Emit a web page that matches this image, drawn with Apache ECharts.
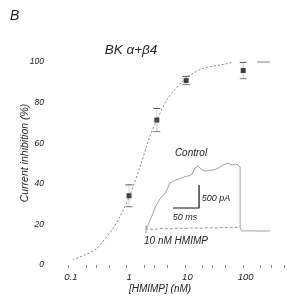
<!DOCTYPE html>
<html>
<head>
<meta charset="utf-8">
<script src="https://cdn.jsdelivr.net/npm/echarts@6/dist/echarts.min.js"></script>
<style>
  html, body { margin: 0; padding: 0; background: #fff; }
  #main { width: 287px; height: 303px; }
</style>
</head>
<body>
<div id="main"></div>
<script>
// dose-response points (nM, % inhibition, sem)
var doseConc = [1.1, 3.3, 10.5, 100];
var dosePct = [34.1, 71.4, 90.9, 95.8];
var doseErr = [5.4, 5.7, 2.0, 4.0];

// fitted curve
var fitConc = [0.119, 0.2, 0.31, 0.39, 0.55, 0.77, 1.14, 1.7, 2.5, 3.3, 4.85, 6.3, 9, 12.2, 20.6, 40, 67];
var fitPct = [2.5, 5.2, 8.2, 11.5, 17, 23.8, 34.5, 48.4, 63.2, 71.4, 81.3, 85.4, 90.5, 93.6, 96.9, 98.5, 99.8];
var plateauConc = [174, 288];
var plateauPct = [100, 100];

var xLabelConc = [0.1, 1, 10, 100];
var xTickConc = [0.1, 0.2, 0.3, 0.5, 1, 2, 3, 5, 10, 20, 30, 50, 100, 200, 300, 500];

// inset current traces (ms, pA)
var controlT = [0, 4, 8, 13, 17, 22, 27, 32, 37, 42, 46, 52, 58, 64, 69, 75, 81, 85, 89, 94, 100, 104, 108, 112, 115, 122, 129, 134, 139, 144, 148, 153, 158, 163, 167, 172, 177, 181, 181, 185, 200, 220, 238];
var controlI = [0, 90, 196, 330, 457, 560, 652, 720, 783, 900, 1000, 1040, 1065, 1090, 1109, 1140, 1152, 1170, 1196, 1326, 1370, 1330, 1283, 1260, 1239, 1270, 1283, 1300, 1326, 1360, 1391, 1410, 1435, 1400, 1391, 1410, 1391, 1348, 22, -43, -40, -45, -43];
var hmimpT = [0, 0, 0, 3, 15, 30, 45, 60, 75, 90, 105, 120, 135, 150, 165, 181];
var hmimpI = [80, -80, 0, 10, -10, 15, 0, 20, 10, 25, 15, 30, 20, 35, 30, 40];
var barT = [52, 102, 102];
var barI = [457, 457, 957];

function pairs(xs, ys, fx) {
  return xs.map(function (x, i) { return [fx ? fx(x) : x, ys[i]]; });
}
var lg = Math.log10;

var chart = echarts.init(document.getElementById('main'), null, { renderer: 'canvas' });
var txt = '#222';
var fontFam = '"Liberation Sans", Arial, sans-serif';

var option = {
  backgroundColor: '#ffffff',
  animation: false,
  grid: [
    { left: 45, right: 3, top: 62, bottom: 38 },
    { left: 146, right: 11, top: 155.4, bottom: 64.8 }
  ],
  xAxis: [{
    type: 'value', gridIndex: 0,
    min: -1.4, max: 2.7,
    axisLine: { show: false },
    splitLine: { show: false },
    axisTick: { show: true, length: 3, lineStyle: { color: '#888', width: 1 },
      customValues: xTickConc.map(lg) },
    axisLabel: {
      customValues: xLabelConc.map(lg),
      formatter: function (v) { return String(+Math.pow(10, v).toPrecision(3)); },
      fontStyle: 'italic', fontFamily: fontFam, fontSize: 9.5, color: txt,
      margin: 7, padding: [0, 0, 0, 5]
    }
  }, {
    type: 'value', gridIndex: 1, min: 0, max: 250, show: false
  }],
  yAxis: [{
    type: 'value', gridIndex: 0,
    min: 0, max: 100, interval: 20,
    axisLine: { show: false },
    axisTick: { show: false },
    splitLine: { show: false },
    axisLabel: { fontStyle: 'italic', fontFamily: fontFam, fontSize: 8.5, color: txt, margin: 1 }
  }, {
    type: 'value', gridIndex: 1, min: -200, max: 1600, show: false
  }],
  graphic: [
    { type: 'text', x: 10, y: 16, style: { text: 'B', font: 'italic 14px ' + fontFam, fill: txt, textVerticalAlign: 'middle' } },
    { type: 'text', x: 131, y: 50, style: { text: 'BK \u03b1+\u03b24', font: 'italic 13.5px ' + fontFam, fill: txt, textAlign: 'center', textVerticalAlign: 'middle' } },
    { type: 'text', x: 25, y: 153, rotation: Math.PI / 2, style: { text: 'Current inhibition (%)', font: 'italic 10.5px ' + fontFam, fill: txt, textAlign: 'center', textVerticalAlign: 'middle' } },
    { type: 'text', x: 160, y: 289, style: { text: '[HMIMP] (nM)', font: 'italic 10px ' + fontFam, fill: txt, textAlign: 'center', textVerticalAlign: 'middle' } },
    { type: 'text', x: 191, y: 153, style: { text: 'Control', font: 'italic 10px ' + fontFam, fill: txt, textAlign: 'center', textVerticalAlign: 'middle' } },
    { type: 'text', x: 216, y: 198, style: { text: '500 pA', font: 'italic 9px ' + fontFam, fill: txt, textAlign: 'center', textVerticalAlign: 'middle' } },
    { type: 'text', x: 185, y: 217, style: { text: '50 ms', font: 'italic 9px ' + fontFam, fill: txt, textAlign: 'center', textVerticalAlign: 'middle' } },
    { type: 'text', x: 176, y: 241, style: { text: '10 nM HMIMP', font: 'italic 10px ' + fontFam, fill: txt, textAlign: 'center', textVerticalAlign: 'middle' } }
  ],
  series: [
    {
      type: 'line', xAxisIndex: 0, yAxisIndex: 0,
      data: pairs(fitConc, fitPct, lg),
      smooth: 0.3, symbol: 'none', clip: false,
      lineStyle: { color: '#777', width: 0.9, type: [2, 2] }
    },
    {
      type: 'line', xAxisIndex: 0, yAxisIndex: 0,
      data: pairs(plateauConc, plateauPct, lg),
      symbol: 'none', clip: false,
      lineStyle: { color: '#aaa', width: 1.5 }
    },
    {
      type: 'custom', xAxisIndex: 0, yAxisIndex: 0, clip: false,
      data: doseConc.map(function (c, i) { return [lg(c), dosePct[i] - doseErr[i], dosePct[i] + doseErr[i]]; }),
      renderItem: function (params, api) {
        var x = api.value(0);
        var lo = api.coord([x, api.value(1)]);
        var hi = api.coord([x, api.value(2)]);
        var w = 3.5;
        return {
          type: 'group',
          children: [
            { type: 'line', shape: { x1: lo[0], y1: lo[1], x2: hi[0], y2: hi[1] }, style: { stroke: '#c4c4c4', lineWidth: 0.8 } },
            { type: 'line', shape: { x1: hi[0] - w, y1: hi[1], x2: hi[0] + w, y2: hi[1] }, style: { stroke: '#555', lineWidth: 1 } },
            { type: 'line', shape: { x1: lo[0] - w, y1: lo[1], x2: lo[0] + w, y2: lo[1] }, style: { stroke: '#777', lineWidth: 1 } }
          ]
        };
      }
    },
    {
      type: 'scatter', xAxisIndex: 0, yAxisIndex: 0,
      data: pairs(doseConc, dosePct, lg),
      symbol: 'rect', symbolSize: 5, clip: false,
      itemStyle: { color: '#111' }
    },
    {
      type: 'line', xAxisIndex: 1, yAxisIndex: 1,
      data: pairs(controlT, controlI),
      symbol: 'none', clip: false,
      lineStyle: { color: '#777', width: 0.7 }
    },
    {
      type: 'line', xAxisIndex: 1, yAxisIndex: 1,
      data: pairs(hmimpT, hmimpI),
      symbol: 'none', clip: false,
      lineStyle: { color: '#777', width: 0.8, type: [3, 2] }
    },
    {
      type: 'line', xAxisIndex: 1, yAxisIndex: 1,
      data: pairs(barT, barI),
      symbol: 'none', clip: false,
      lineStyle: { color: '#111', width: 1.2 }
    }
  ]
};
chart.setOption(option);
</script>
</body>
</html>
